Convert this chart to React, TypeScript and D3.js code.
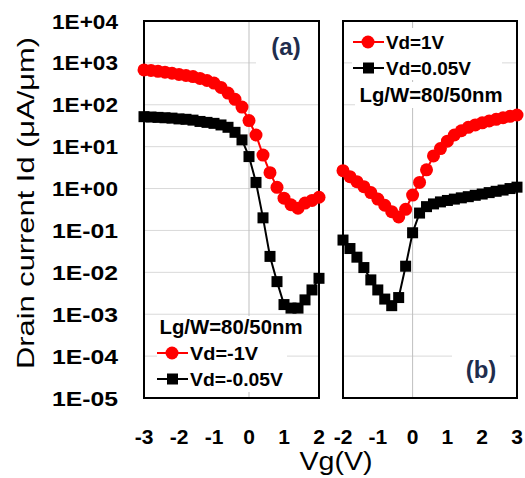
import React from 'react';
import * as d3 from 'd3';

// Vg sweep for each panel (V)
const leftVg = [-3, -2.8, -2.6, -2.4, -2.2, -2, -1.8, -1.6, -1.4, -1.2, -1, -0.8, -0.6, -0.4, -0.2, 0, 0.2, 0.4, 0.6, 0.8, 1, 1.2, 1.4, 1.6, 1.8, 2];
const rightVg = [-2, -1.8, -1.6, -1.4, -1.2, -1, -0.8, -0.6, -0.4, -0.2, 0, 0.2, 0.4, 0.6, 0.8, 1, 1.2, 1.4, 1.6, 1.8, 2, 2.2, 2.4, 2.6, 2.8, 3];

// (a) p-type: Vd=-1V and Vd=-0.05V
const leftVd1 = [680, 660, 630, 600, 565, 530, 500, 470, 425, 380, 330, 260, 190, 135, 88, 42, 19, 6.3, 2.4, 1.07, 0.59, 0.41, 0.34, 0.45, 0.52, 0.62];
const leftVd005 = [52, 51, 50, 49, 48, 46, 45, 43, 40, 38, 36, 33, 29, 22, 14.5, 5.8, 1.4, 0.2, 0.024, 0.006, 0.0017, 0.0014, 0.0014, 0.0022, 0.0038, 0.0072];

// (b) n-type: Vd=1V and Vd=0.05V
const rightVd1 = [2.67, 1.92, 1.46, 1.11, 0.8, 0.56, 0.4, 0.28, 0.21, 0.32, 0.7, 1.4, 2.8, 6, 9, 13.5, 19, 24, 29, 33, 37, 41, 45, 49, 53, 57];
const rightVd005 = [0.059, 0.037, 0.023, 0.013, 0.0066, 0.0038, 0.0023, 0.0016, 0.0025, 0.014, 0.088, 0.26, 0.37, 0.43, 0.48, 0.52, 0.56, 0.6, 0.64, 0.69, 0.74, 0.8, 0.86, 0.92, 1.0, 1.08];

const yTickValues = [1e4, 1e3, 1e2, 1e1, 1e0, 1e-1, 1e-2, 1e-3, 1e-4, 1e-5];
const leftTicks = [-3, -2, -1, 0, 1, 2];
const rightTicks = [-2, -1, 0, 1, 2, 3];

const FONT = '"Liberation Sans", Arial, sans-serif';
const RED = '#FF0000';

const fmtExp = (v: number) => {
  const e = Math.round(Math.log10(v));
  const s = e < 0 ? '-' : '+';
  return `1E${s}${String(Math.abs(e)).padStart(2, '0')}`;
};

const top = 21, bottom = 398;
const yScale = d3.scaleLog().domain([1e-5, 1e4]).range([bottom, top]);

function Series({ xs, ys, x, color, marker }: any) {
  const pts = xs.map((v: number, i: number) => [x(v), yScale(ys[i])]);
  const line = d3.line()(pts);
  return (
    <g>
      <path d={line || ''} fill="none" stroke={color} strokeWidth={2} />
      {pts.map((p: number[], i: number) =>
        marker === 'circle'
          ? <circle key={i} cx={p[0]} cy={p[1]} r={6.5} fill={color} />
          : <rect key={i} x={p[0] - 5.5} y={p[1] - 5.5} width={11} height={11} fill={color} />
      )}
    </g>
  );
}

function LegendItem({ x, y, color, marker, label, len }: any) {
  return (
    <g>
      <line x1={x} x2={x + 31} y1={y} y2={y} stroke={color} strokeWidth={2} />
      {marker === 'circle'
        ? <circle cx={x + 15} cy={y} r={6.5} fill={color} />
        : <rect x={x + 10} y={y - 5.5} width={11} height={11} fill={color} />}
      <text x={x + 33} y={y} dy="0.36em" fontSize={19} fontWeight="bold" fill="#000"
        textLength={len} lengthAdjust="spacingAndGlyphs">{label}</text>
    </g>
  );
}

function Panel({ x, ticks, red, black, children }: any) {
  const [x0, x1] = x.range();
  return (
    <g>
      {yTickValues.map(v => (
        <line key={v} x1={x0} x2={x1} y1={yScale(v)} y2={yScale(v)} stroke="#D9D9D9" strokeWidth={1} />
      ))}
      <line x1={x(0)} x2={x(0)} y1={top} y2={bottom} stroke="#BFBFBF" strokeWidth={1} />
      {children}
      <rect x={x0} y={top} width={x1 - x0} height={bottom - top} fill="none" stroke="#000" strokeWidth={2} />
      <Series xs={red[0]} ys={red[1]} x={x} color={RED} marker="circle" />
      <Series xs={black[0]} ys={black[1]} x={x} color="#000" marker="square" />
      {ticks.map((t: number) => (
        <text key={t} x={x(t)} y={444} textAnchor="middle" fontSize={21} fontWeight="bold">{t}</text>
      ))}
    </g>
  );
}

export default function App() {
  const xLeft = d3.scaleLinear().domain([-3, 2]).range([144, 319]);
  const xRight = d3.scaleLinear().domain([-2, 3]).range([343, 517]);

  return (
    <svg width={525} height={478} style={{ position: 'absolute', left: 0, top: 0, background: '#fff' }} fontFamily={FONT}>
      <rect width={525} height={478} fill="#fff" />
      {yTickValues.map(v => (
        <text key={v} x={118} y={yScale(v)} dy="0.36em" textAnchor="end" fontSize={21} fontWeight="bold"
          textLength={66} lengthAdjust="spacingAndGlyphs">{fmtExp(v)}</text>
      ))}
      <text transform="translate(25,203) rotate(-90)" textAnchor="middle" dy="0.36em" fontSize={24}
        textLength={332} lengthAdjust="spacingAndGlyphs">Drain current Id (μA/μm)</text>
      <text x={336} y={470} textAnchor="middle" fontSize={26} textLength={73} lengthAdjust="spacingAndGlyphs">Vg(V)</text>

      <Panel x={xLeft} ticks={leftTicks} red={[leftVg, leftVd1]} black={[leftVg, leftVd005]}>
        <rect x={256} y={28} width={62} height={46} fill="#fff" />
        <rect x={158} y={316} width={148} height={24} fill="#fff" />
        <rect x={157} y={340} width={130} height={52} fill="#fff" />
      </Panel>
      <Panel x={xRight} ticks={rightTicks} red={[rightVg, rightVd1]} black={[rightVg, rightVd005]}>
        <rect x={352} y={28} width={150} height={52} fill="#fff" />
        <rect x={355} y={82} width={161} height={26} fill="#fff" />
        <rect x={452} y={342} width={58} height={50} fill="#fff" />
      </Panel>

      <text x={286} y={46} dy="0.36em" textAnchor="middle" fontSize={24} fontWeight="bold" fill="#1F2D4D">(a)</text>
      <text x={481} y={369} dy="0.36em" textAnchor="middle" fontSize={24} fontWeight="bold" fill="#1F2D4D">(b)</text>

      <text x={231} y={327} dy="0.36em" textAnchor="middle" fontSize={20} fontWeight="bold"
        textLength={143} lengthAdjust="spacingAndGlyphs">Lg/W=80/50nm</text>
      <LegendItem x={157} y={353} color={RED} marker="circle" label="Vd=-1V" len={68} />
      <LegendItem x={157} y={379} color="#000" marker="square" label="Vd=-0.05V" len={93} />

      <LegendItem x={353} y={42} color={RED} marker="circle" label="Vd=1V" len={58} />
      <LegendItem x={353} y={68} color="#000" marker="square" label="Vd=0.05V" len={85} />
      <text x={431} y={95} dy="0.36em" textAnchor="middle" fontSize={20} fontWeight="bold"
        textLength={143} lengthAdjust="spacingAndGlyphs">Lg/W=80/50nm</text>
    </svg>
  );
}
